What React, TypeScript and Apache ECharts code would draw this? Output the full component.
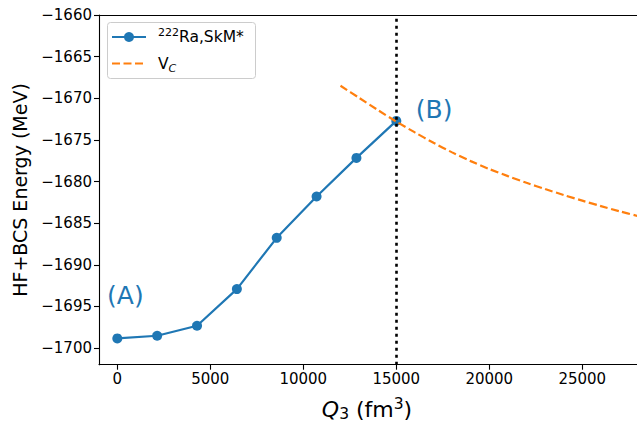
import React, { useEffect, useRef } from 'react';
import * as echarts from 'echarts';

// ---- data ----
const qValues = [0, 2143, 4286, 6429, 8571, 10714, 12857, 15000];
const hfbcsEnergy = [-1698.84, -1698.52, -1697.32, -1692.92, -1686.76, -1681.8, -1677.16, -1672.72];
const vcQ = [12000, 13000, 14000, 15000, 16000, 17000, 18000, 19000, 20000, 21000, 22000, 23000, 24000, 25000, 26000, 27000, 28000];
const vcEnergy = [-1668.5, -1669.95, -1671.4, -1672.8, -1674.1, -1675.35, -1676.5, -1677.55, -1678.5, -1679.35, -1680.15, -1680.9, -1681.62, -1682.3, -1682.95, -1683.57, -1684.15];
const xTicks = [0, 5000, 10000, 15000, 20000, 25000];
const yTicks = [-1700, -1695, -1690, -1685, -1680, -1675, -1670, -1665, -1660];
const scissionQ = 15000;
const annotations = [
  { text: '(A)', q: -550, e: -1693.7 },
  { text: '(B)', q: 16050, e: -1671.3 },
];

const BLUE = '#1f77b4';
const ORANGE = '#ff7f0e';
const FONT = 'DejaVu Sans';

export default function App() {
  const ref = useRef<HTMLDivElement>(null);
  useEffect(() => {
    document.body.style.margin = '0';
    const chart = echarts.init(ref.current!, null, { renderer: 'svg' });
    const minus = (v: number) => String(v).replace('-', '\u2212');
    const xMin = -984;
    const xMax = 27941;
    chart.setOption({
      animation: false,
      grid: { left: 99, top: 15, right: 0, bottom: 59.3 },
      xAxis: [
        {
          type: 'value',
          min: xMin,
          max: xMax,
          axisLine: { show: true, onZero: false, lineStyle: { color: '#000', width: 1.1 } },
          axisTick: { show: true, customValues: xTicks, length: 5, lineStyle: { color: '#000', width: 1.1 } },
          axisLabel: {
            show: true,
            customValues: xTicks,
            margin: 7,
            color: '#000',
            fontSize: 15,
            fontFamily: FONT,
            formatter: (v: number) => minus(v),
          },
          splitLine: { show: false },
        },
        {
          type: 'value',
          position: 'top',
          min: xMin,
          max: xMax,
          axisLine: { show: true, onZero: false, lineStyle: { color: '#000', width: 1.1 } },
          axisTick: { show: false },
          axisLabel: { show: false },
          splitLine: { show: false },
        },
      ],
      yAxis: {
        type: 'value',
        min: -1702,
        max: -1660,
        axisLine: { show: true, onZero: false, lineStyle: { color: '#000', width: 1.1 } },
        axisTick: { show: true, customValues: yTicks, length: 5, lineStyle: { color: '#000', width: 1.1 } },
        axisLabel: {
          show: true,
          customValues: yTicks,
          margin: 7,
          color: '#000',
          fontSize: 15,
          fontFamily: FONT,
          formatter: (v: number) => minus(v),
        },
        splitLine: { show: false },
      },
      series: [
        {
          type: 'line',
          name: 'scission',
          data: [],
          markLine: {
            silent: true,
            symbol: 'none',
            label: { show: false },
            lineStyle: { color: '#000', type: [3, 4], width: 2.6 },
            data: [{ xAxis: scissionQ }],
          },
          z: 1,
        },
        {
          type: 'line',
          name: 'ra',
          data: qValues.map((q, i) => [q, hfbcsEnergy[i]]),
          symbol: 'circle',
          symbolSize: 10,
          itemStyle: { color: BLUE },
          lineStyle: { color: BLUE, width: 2.2 },
          z: 2,
        },
        {
          type: 'line',
          name: 'vc',
          data: vcQ.map((q, i) => [q, vcEnergy[i]]),
          symbol: 'none',
          smooth: 0.3,
          lineStyle: { color: ORANGE, width: 2.2, type: [8, 3.5] },
          z: 3,
        },
      ],
    });

    const annoGraphics = annotations.map((a) => {
      const p = chart.convertToPixel({ gridIndex: 0 }, [a.q, a.e]) as number[];
      return {
        type: 'text',
        x: p[0],
        y: p[1],
        style: {
          text: a.text,
          fill: BLUE,
          font: `25px "${FONT}"`,
          align: 'left',
          verticalAlign: 'middle',
        },
        z: 10,
      };
    });

    chart.setOption({
      graphic: {
        elements: [
          ...annoGraphics,
          // legend box
          {
            type: 'rect',
            shape: { x: 107.5, y: 22.5, width: 148, height: 56, r: 3 },
            style: { fill: 'rgba(255,255,255,0.8)', stroke: '#cccccc', lineWidth: 1 },
            z: 20,
          },
          {
            type: 'line',
            shape: { x1: 112, y1: 37, x2: 146, y2: 37 },
            style: { stroke: BLUE, lineWidth: 2.2 },
            z: 21,
          },
          {
            type: 'circle',
            shape: { cx: 129, cy: 37, r: 5 },
            style: { fill: BLUE },
            z: 22,
          },
          {
            type: 'line',
            shape: { x1: 112, y1: 63.5, x2: 146, y2: 63.5 },
            style: { stroke: ORANGE, lineWidth: 2.2, lineDash: [8, 3.5] },
            z: 21,
          },
          {
            type: 'text',
            x: 158,
            y: 37,
            style: {
              text: '{p|222}{n|Ra,SkM*}',
              verticalAlign: 'middle',
              align: 'left',
              rich: {
                p: { fontSize: 11, fontFamily: FONT, fill: '#000', lineHeight: 10, verticalAlign: 'top' },
                n: { fontSize: 15.5, fontFamily: FONT, fill: '#000', lineHeight: 20 },
              },
            },
            z: 22,
          },
          {
            type: 'text',
            x: 158,
            y: 63.5,
            style: {
              text: '{n|V}{c|C}',
              verticalAlign: 'middle',
              align: 'left',
              rich: {
                n: { fontSize: 15.5, fontFamily: FONT, fill: '#000', lineHeight: 20 },
                c: { fontSize: 11, fontFamily: FONT, fontStyle: 'italic', fill: '#000', lineHeight: 10, verticalAlign: 'bottom' },
              },
            },
            z: 22,
          },
          // y axis title
          {
            type: 'text',
            x: 20,
            y: 190,
            rotation: Math.PI / 2,
            style: {
              text: 'HF+BCS Energy (MeV)',
              font: `19px "${FONT}"`,
              fill: '#000',
              align: 'center',
              verticalAlign: 'middle',
            },
          },
          // x axis title
          {
            type: 'text',
            x: 367,
            y: 409,
            style: {
              text: '{q|Q}{s|3}{n| (fm}{p|3}{n|)}',
              align: 'center',
              verticalAlign: 'middle',
              rich: {
                q: { fontSize: 22, fontFamily: FONT, fontStyle: 'italic', fill: '#000', lineHeight: 26 },
                s: { fontSize: 15.5, fontFamily: FONT, fill: '#000', lineHeight: 13, verticalAlign: 'bottom' },
                n: { fontSize: 22, fontFamily: FONT, fill: '#000', lineHeight: 26 },
                p: { fontSize: 15.5, fontFamily: FONT, fill: '#000', lineHeight: 13, verticalAlign: 'top' },
              },
            },
          },
        ],
      },
    });

    return () => chart.dispose();
  }, []);
  return <div ref={ref} style={{ width: 637, height: 424 }} />;
}
